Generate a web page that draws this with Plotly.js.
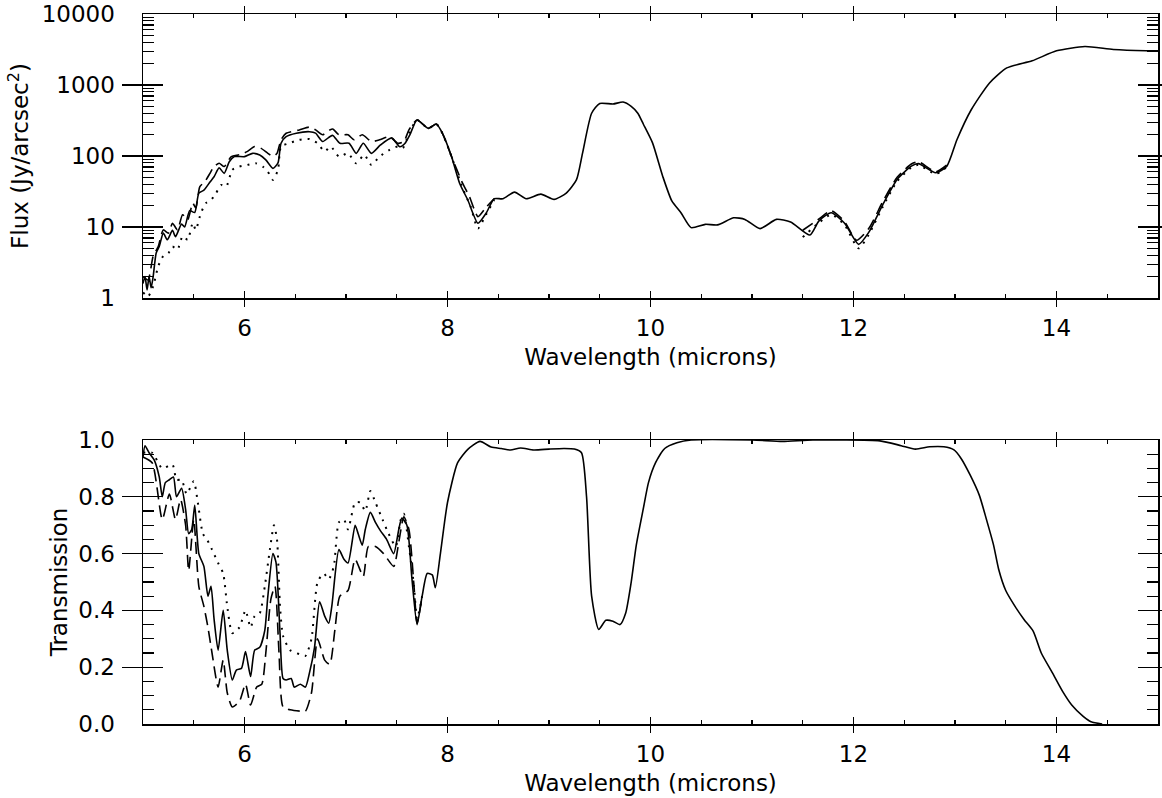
<!DOCTYPE html>
<html>
<head>
<meta charset="utf-8">
<script src="https://cdn.plot.ly/plotly-3.0.1.min.js"></script>
<style>
  html, body { margin: 0; padding: 0; background: #fff; }
  #chart { width: 1162px; height: 798px; }
</style>
</head>
<body>
<div id="chart"></div>
<script>
// ---------- Top panel: Flux (Jy/arcsec^2) ----------
const fluxX = [5.00,5.02,5.04,5.06,5.08,5.10,5.13,5.16,5.20,5.24,5.29,5.32,5.38,5.41,5.46,5.51,5.55,5.60,5.66,5.70,5.75,5.80,5.85,5.90,6.00,6.08,6.15,6.21,6.28,6.33,6.36,6.41,6.51,6.64,6.70,6.77,6.84,6.87,6.94,7.03,7.10,7.17,7.25,7.34,7.45,7.53,7.58,7.63,7.70,7.81,7.89,7.95,8.04,8.12,8.20,8.30,8.38,8.46,8.545,8.66,8.775,8.92,9.05,9.17,9.27,9.33,9.42,9.50,9.63,9.73,9.81,9.875,9.93,10.02,10.12,10.21,10.30,10.40,10.54,10.66,10.82,10.93,11.08,11.24,11.38,11.57,11.66,11.78,11.91,12.05,12.15,12.29,12.43,12.57,12.64,12.81,12.92,13.02,13.16,13.34,13.51,13.76,14.00,14.28,14.56,14.88,15.00];
const fluxSolid = [1.6,2.0,1.3,2.0,1.4,2.0,4.3,5.3,8.2,6.6,9.0,7.3,11,10,17,16,30,33,43,51,68,57,83,98,98,109,103,88,67,80,151,187,209,220,210,160,187,195,151,151,109,151,109,143,180,135,150,200,322,245,282,209,98,41,24,11.3,15.6,25,25,31,25,29,24.5,30,46,109,400,550,540,575,500,400,280,153,52,23.3,15.9,9.8,10.9,10.7,13.5,12.8,9.5,12.8,11.8,7.7,12.2,15.9,11.4,5.7,8.4,20.9,46.8,72,78,58,72,171,448,1070,1740,2190,3030,3480,3160,3030,3020];

const fluxDashX = [5.00,5.05,5.10,5.15,5.20,5.25,5.29,5.34,5.39,5.44,5.49,5.52,5.56,5.61,5.66,5.70,5.75,5.80,5.87,5.95,6.03,6.10,6.16,6.23,6.28,6.32,6.36,6.41,6.54,6.64,6.70,6.77,6.84,6.87,6.93,7.02,7.08,7.16,7.25,7.33,7.43,7.51,7.57,7.62,7.70,7.81,7.89,7.95,8.04,8.14,8.22,8.30,8.38,8.46,8.50,11.50,11.66,11.78,11.91,12.03,12.15,12.29,12.43,12.57,12.64,12.81,12.92];
const fluxDashed = [2.0,1.8,3.9,5.3,9.1,8.2,11.3,9.1,14.9,12.6,21.7,18.5,37,43.6,57,71,79,71,98,104,116,136,129,109,98,109,169,209,233,255,233,199,233,240,199,199,169,199,160,169,187,151,160,233,322,245,282,209,98,44,26,14,19,25,null,9.0,13.0,17.0,12.0,6.5,9.5,23,50,77,83,60,75];

const fluxDotX = [5.00,5.05,5.10,5.15,5.20,5.25,5.29,5.34,5.39,5.44,5.49,5.52,5.57,5.62,5.67,5.72,5.77,5.82,5.88,5.95,6.03,6.11,6.18,6.23,6.28,6.33,6.36,6.44,6.54,6.64,6.72,6.79,6.85,6.93,7.02,7.10,7.18,7.25,7.33,7.43,7.51,7.56,7.62,7.70,7.81,7.89,7.95,8.04,8.14,8.23,8.30,8.38,8.46,8.50,11.50,11.66,11.78,11.91,12.05,12.15,12.29,12.43,12.57,12.64,12.81,12.92];
const fluxDotted = [1.2,1.05,1.46,2.8,3.9,4.3,5.3,4.8,7.4,6.6,11.4,9.1,15.7,21.7,24,30,39,37,64,71,75,79,71,60,46,64,136,151,169,173,151,116,136,98,109,79,104,75,98,122,136,129,209,322,245,282,209,98,38,19,9.5,15,24,null,7.2,11.5,15.0,10.8,5.0,7.8,19.5,44,69,75,56,70];

// ---------- Bottom panel: Transmission ----------
const transX = [5.00,5.02,5.06,5.11,5.16,5.19,5.22,5.26,5.30,5.33,5.38,5.42,5.45,5.48,5.51,5.55,5.60,5.64,5.67,5.70,5.74,5.79,5.83,5.88,5.92,5.97,6.01,6.06,6.10,6.15,6.20,6.23,6.28,6.31,6.35,6.38,6.41,6.46,6.49,6.55,6.60,6.64,6.69,6.74,6.79,6.83,6.86,6.93,6.98,7.02,7.09,7.12,7.16,7.19,7.24,7.29,7.34,7.40,7.47,7.52,7.55,7.60,7.65,7.70,7.75,7.80,7.85,7.88,7.93,8.00,8.10,8.20,8.32,8.43,8.53,8.62,8.72,8.85,9.00,9.15,9.25,9.32,9.37,9.42,9.49,9.56,9.63,9.70,9.755,9.81,9.86,9.93,9.98,10.05,10.14,10.26,10.40,11.00,11.30,11.60,12.26,12.47,12.61,12.75,12.89,12.99,13.06,13.15,13.24,13.31,13.38,13.43,13.50,13.59,13.68,13.77,13.85,13.96,14.06,14.15,14.26,14.34,14.45];
const transSolid = [0.94,0.98,0.955,0.93,0.87,0.80,0.85,0.86,0.87,0.80,0.83,0.755,0.67,0.685,0.77,0.60,0.555,0.45,0.485,0.37,0.26,0.40,0.26,0.155,0.19,0.196,0.255,0.167,0.26,0.27,0.33,0.45,0.60,0.57,0.32,0.16,0.155,0.16,0.13,0.14,0.13,0.18,0.27,0.43,0.38,0.355,0.414,0.614,0.58,0.567,0.70,0.67,0.63,0.685,0.745,0.71,0.68,0.65,0.60,0.685,0.725,0.70,0.51,0.35,0.45,0.53,0.525,0.48,0.60,0.78,0.92,0.967,0.995,0.975,0.97,0.965,0.972,0.965,0.968,0.97,0.968,0.955,0.80,0.45,0.333,0.365,0.362,0.35,0.39,0.50,0.63,0.76,0.85,0.92,0.97,0.99,1.0,1.0,0.995,1.0,0.997,0.98,0.968,0.976,0.976,0.965,0.935,0.876,0.805,0.72,0.63,0.545,0.47,0.415,0.368,0.327,0.25,0.18,0.115,0.067,0.028,0.008,0.0];

const transDotX = [5.00,5.09,5.19,5.29,5.33,5.38,5.43,5.50,5.54,5.59,5.63,5.68,5.74,5.79,5.83,5.88,5.95,6.01,6.06,6.10,6.15,6.20,6.25,6.29,6.32,6.35,6.38,6.45,6.55,6.60,6.66,6.72,6.78,6.83,6.88,6.93,6.98,7.02,7.09,7.14,7.19,7.24,7.29,7.36,7.42,7.49,7.54,7.57,7.62,7.67,7.70,7.75];
const transDotted = [0.955,0.955,0.90,0.914,0.86,0.86,0.81,0.855,0.78,0.67,0.65,0.614,0.567,0.53,0.414,0.32,0.34,0.40,0.34,0.38,0.39,0.485,0.614,0.70,0.65,0.414,0.31,0.26,0.245,0.24,0.30,0.50,0.53,0.51,0.555,0.71,0.72,0.685,0.78,0.78,0.75,0.82,0.78,0.72,0.67,0.625,0.72,0.74,0.625,0.485,0.37,0.45];

const transDashX = [5.00,5.09,5.19,5.26,5.32,5.37,5.42,5.45,5.50,5.55,5.60,5.64,5.68,5.74,5.79,5.83,5.88,5.95,6.01,6.06,6.12,6.17,6.21,6.26,6.30,6.34,6.38,6.45,6.55,6.60,6.66,6.72,6.79,6.84,6.89,6.94,7.02,7.09,7.17,7.22,7.29,7.37,7.47,7.52,7.57,7.62,7.67,7.70,7.75];
const transDashed = [0.94,0.92,0.72,0.81,0.72,0.79,0.70,0.54,0.72,0.485,0.414,0.34,0.25,0.13,0.225,0.11,0.06,0.08,0.14,0.067,0.13,0.14,0.25,0.44,0.485,0.25,0.06,0.05,0.045,0.045,0.11,0.30,0.225,0.21,0.33,0.45,0.47,0.58,0.52,0.625,0.625,0.60,0.555,0.64,0.73,0.685,0.485,0.355,0.45];

const fluxTicks = [1, 10, 100, 1000, 10000];
const fluxTickText = ['1', '10', '100', '1000', '10000'];

// minor tick positions for the log axis (2..9 in each decade)
const fluxMinor = [];
for (let d = 1; d < 10000; d *= 10) { for (let k = 2; k <= 9; k++) fluxMinor.push(k * d); }

const FONT = 'DejaVu Sans';
const SM = 0.6;
function ln(dash, w) { return { color: 'black', width: w || 1.6, dash: dash, shape: 'spline', smoothing: SM }; }
const ghost = { mode: 'lines', line: { width: 0 }, opacity: 0, hoverinfo: 'skip' };

const traces = [
  { x: fluxX, y: fluxSolid, xaxis: 'x', yaxis: 'y', mode: 'lines', line: ln('solid'), connectgaps: false },
  { x: fluxDashX, y: fluxDashed, xaxis: 'x', yaxis: 'y', mode: 'lines', line: ln('12px,6px'), connectgaps: false },
  { x: fluxDotX, y: fluxDotted, xaxis: 'x', yaxis: 'y', mode: 'lines', line: ln('2px,6px', 2), connectgaps: false },
  { x: transX, y: transSolid, xaxis: 'x2', yaxis: 'y2', mode: 'lines', line: ln('solid') },
  { x: transDashX, y: transDashed, xaxis: 'x2', yaxis: 'y2', mode: 'lines', line: ln('12px,6px') },
  { x: transDotX, y: transDotted, xaxis: 'x2', yaxis: 'y2', mode: 'lines', line: ln('2px,6px', 2) },
  // invisible carriers for the minor-tick axes
  Object.assign({ x: fluxX, y: fluxSolid, xaxis: 'x3', yaxis: 'y' }, ghost),
  Object.assign({ x: fluxX, y: fluxSolid, xaxis: 'x', yaxis: 'y3' }, ghost),
  Object.assign({ x: transX, y: transSolid, xaxis: 'x4', yaxis: 'y2' }, ghost),
  Object.assign({ x: transX, y: transSolid, xaxis: 'x2', yaxis: 'y4' }, ghost)
];

const tickFont = { family: FONT, size: 23, color: 'black' };
const titleFont = { family: FONT, size: 23, color: 'black' };

const frame = { showline: true, linecolor: 'black', linewidth: 1.5, showgrid: false, zeroline: false, mirror: 'allticks', ticks: 'inside', tickcolor: 'black' };
const minorAx = { showline: false, showgrid: false, zeroline: false, mirror: 'allticks', ticks: 'inside', tickcolor: 'black', tickwidth: 1.2, showticklabels: false };

function xMain(anchor) {
  return Object.assign({}, frame, {
    anchor: anchor, range: [5, 15], tick0: 0, dtick: 2, ticklen: 7, tickwidth: 1.3,
    tickfont: tickFont, ticklabelstandoff: 9,
    title: { text: 'Wavelength (microns)', font: titleFont, standoff: 9 }
  });
}
function xMinor(over, anchor) {
  return Object.assign({}, minorAx, {
    overlaying: over, anchor: anchor, side: 'bottom', range: [5, 15], tick0: 0, dtick: 0.5, ticklen: 4
  });
}

const layout = {
  width: 1162, height: 798,
  margin: { l: 143, r: 4, t: 14, b: 74 },
  paper_bgcolor: 'white', plot_bgcolor: 'white',
  showlegend: false,
  xaxis: xMain('y'),
  xaxis2: xMain('y2'),
  xaxis3: xMinor('x', 'y'),
  xaxis4: xMinor('x2', 'y2'),
  yaxis: Object.assign({}, frame, {
    domain: [0.6, 1], anchor: 'x', type: 'log', range: [0, 4],
    tickmode: 'array', tickvals: fluxTicks, ticktext: fluxTickText,
    ticklen: 20, tickwidth: 1.3,
    tickfont: tickFont, ticklabelstandoff: 22,
    title: { text: 'Flux (Jy/arcsec<sup>2</sup>)', font: titleFont, standoff: 6 }
  }),
  yaxis3: Object.assign({}, minorAx, {
    overlaying: 'y', anchor: 'x', side: 'left', type: 'log', range: [0, 4],
    tickmode: 'array', tickvals: fluxMinor, ticklen: 11
  }),
  yaxis2: Object.assign({}, frame, {
    domain: [0, 0.4], anchor: 'x2', range: [0, 1], tick0: 0, dtick: 0.2, tickformat: '.1f',
    ticklen: 20, tickwidth: 1.3,
    tickfont: tickFont, ticklabelstandoff: 22,
    title: { text: 'Transmission', font: titleFont, standoff: 4 }
  }),
  yaxis4: Object.assign({}, minorAx, {
    overlaying: 'y2', anchor: 'x2', side: 'left', range: [0, 1], tick0: 0, dtick: 0.05, ticklen: 11
  })
};

Plotly.newPlot('chart', traces, layout, { staticPlot: true, displayModeBar: false });
</script>
</body>
</html>
